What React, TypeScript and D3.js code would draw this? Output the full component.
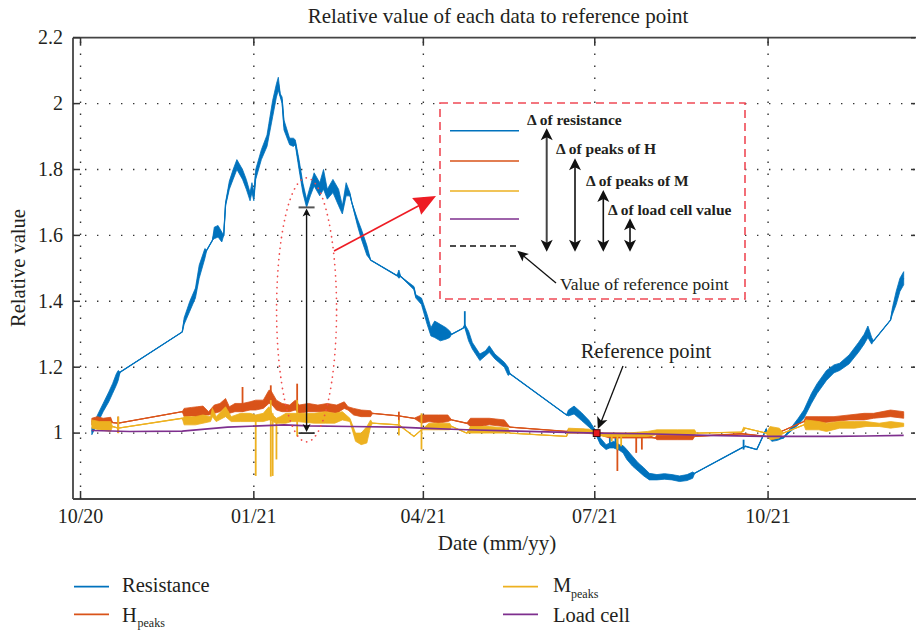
import React from "react";
import * as d3 from "d3";

// ---------- data ----------
const xTickDates = ["2020-10-01", "2021-01-01", "2021-04-01", "2021-07-01", "2021-10-01"];
const xTickLabels = ["10/20", "01/21", "04/21", "07/21", "10/21"];
const yTicks = [1, 1.2, 1.4, 1.6, 1.8, 2, 2.2];
const yTickLabels = ["1", "1.2", "1.4", "1.6", "1.8", "2", "2.2"];
const xDomain = ["2020-09-27", "2021-12-18"];
const yDomain = [0.8, 2.2];

type Band = [string, number, number];

const resistance: Band[] = [
  ["2020-10-07", 0.995, 1.015], ["2020-10-10", 1.03, 1.055], ["2020-10-13", 1.065, 1.09],
  ["2020-10-16", 1.095, 1.125], ["2020-10-18", 1.12, 1.15], ["2020-10-20", 1.145, 1.18],
  ["2020-10-21", 1.16, 1.19], ["2020-10-22", 1.185, 1.185], ["2020-11-24", 1.307, 1.307],
  ["2020-11-25", 1.33, 1.35], ["2020-11-28", 1.37, 1.4], ["2020-12-01", 1.41, 1.44],
  ["2020-12-03", 1.47, 1.51], ["2020-12-06", 1.53, 1.56], ["2020-12-07", 1.555, 1.555],
  ["2020-12-10", 1.585, 1.585], ["2020-12-11", 1.59, 1.625], ["2020-12-13", 1.595, 1.63],
  ["2020-12-15", 1.58, 1.61], ["2020-12-16", 1.6, 1.6], ["2020-12-17", 1.69, 1.7],
  ["2020-12-19", 1.74, 1.765], ["2020-12-21", 1.77, 1.8], ["2020-12-23", 1.8, 1.83],
  ["2020-12-26", 1.77, 1.8], ["2020-12-28", 1.74, 1.77], ["2020-12-30", 1.705, 1.73],
  ["2020-12-31", 1.73, 1.76], ["2021-01-01", 1.705, 1.73], ["2021-01-02", 1.77, 1.8],
  ["2021-01-05", 1.83, 1.86], ["2021-01-08", 1.87, 1.905], ["2021-01-09", 1.9, 1.94],
  ["2021-01-11", 1.96, 2.01], ["2021-01-13", 2.02, 2.06], ["2021-01-14", 2.04, 2.08],
  ["2021-01-15", 2.02, 2.03], ["2021-01-16", 2.0, 2.02], ["2021-01-17", 1.92, 1.95],
  ["2021-01-20", 1.875, 1.895], ["2021-01-22", 1.87, 1.895], ["2021-01-23", 1.875, 1.89],
  ["2021-01-25", 1.8, 1.83], ["2021-01-27", 1.73, 1.76], ["2021-01-29", 1.685, 1.71],
  ["2021-01-31", 1.72, 1.75], ["2021-02-02", 1.75, 1.79], ["2021-02-05", 1.72, 1.76],
  ["2021-02-07", 1.74, 1.8], ["2021-02-09", 1.71, 1.74], ["2021-02-12", 1.73, 1.77],
  ["2021-02-15", 1.69, 1.74], ["2021-02-17", 1.665, 1.69], ["2021-02-19", 1.72, 1.76],
  ["2021-02-21", 1.72, 1.73], ["2021-02-22", 1.7, 1.7], ["2021-02-25", 1.63, 1.65],
  ["2021-02-27", 1.59, 1.62], ["2021-03-02", 1.54, 1.57], ["2021-03-04", 1.525, 1.525],
  ["2021-03-18", 1.478, 1.478], ["2021-03-19", 1.47, 1.495], ["2021-03-20", 1.475, 1.475],
  ["2021-03-27", 1.435, 1.445], ["2021-03-28", 1.41, 1.42], ["2021-03-31", 1.39, 1.41],
  ["2021-04-03", 1.33, 1.36], ["2021-04-05", 1.295, 1.32], ["2021-04-07", 1.29, 1.34],
  ["2021-04-10", 1.28, 1.33], ["2021-04-13", 1.285, 1.32], ["2021-04-15", 1.29, 1.31],
  ["2021-04-16", 1.3, 1.3], ["2021-04-22", 1.318, 1.318], ["2021-04-23", 1.32, 1.33],
  ["2021-04-25", 1.28, 1.31], ["2021-04-27", 1.255, 1.275], ["2021-05-01", 1.22, 1.24],
  ["2021-05-04", 1.235, 1.25], ["2021-05-06", 1.245, 1.265], ["2021-05-09", 1.225, 1.24],
  ["2021-05-11", 1.215, 1.23], ["2021-05-14", 1.2, 1.215], ["2021-05-16", 1.175, 1.2],
  ["2021-05-17", 1.18, 1.18], ["2021-06-16", 1.055, 1.055], ["2021-06-17", 1.052, 1.07],
  ["2021-06-20", 1.058, 1.082], ["2021-06-24", 1.038, 1.062], ["2021-06-28", 1.018, 1.038],
  ["2021-07-01", 1.0, 1.012], ["2021-07-02", 0.99, 1.0], ["2021-07-04", 0.965, 0.985],
  ["2021-07-07", 0.95, 0.965], ["2021-07-09", 0.955, 0.97], ["2021-07-11", 0.955, 0.975],
  ["2021-07-14", 0.948, 0.965], ["2021-07-16", 0.94, 0.962], ["2021-07-18", 0.92, 0.95],
  ["2021-07-21", 0.9, 0.93], ["2021-07-24", 0.885, 0.91], ["2021-07-27", 0.87, 0.895],
  ["2021-07-30", 0.858, 0.878], ["2021-08-03", 0.858, 0.874], ["2021-08-07", 0.86, 0.877],
  ["2021-08-11", 0.858, 0.874], ["2021-08-15", 0.853, 0.87], ["2021-08-19", 0.856, 0.874],
  ["2021-08-22", 0.863, 0.882], ["2021-08-23", 0.878, 0.878], ["2021-09-17", 0.955, 0.955],
  ["2021-09-19", 0.96, 0.96], ["2021-09-25", 0.95, 0.95], ["2021-09-30", 1.012, 1.012],
  ["2021-10-01", 0.99, 0.99], ["2021-10-03", 0.975, 0.99], ["2021-10-06", 0.978, 0.995],
  ["2021-10-09", 0.985, 0.985], ["2021-10-13", 1.005, 1.015], ["2021-10-17", 1.025, 1.045],
  ["2021-10-20", 1.045, 1.07], ["2021-10-24", 1.09, 1.12], ["2021-10-27", 1.12, 1.15],
  ["2021-11-01", 1.16, 1.19], ["2021-11-05", 1.183, 1.207], ["2021-11-08", 1.19, 1.212],
  ["2021-11-13", 1.21, 1.237], ["2021-11-18", 1.245, 1.275], ["2021-11-21", 1.27, 1.3],
  ["2021-11-23", 1.29, 1.325], ["2021-11-25", 1.27, 1.29], ["2021-11-26", 1.28, 1.28],
  ["2021-12-05", 1.343, 1.343], ["2021-12-06", 1.36, 1.38], ["2021-12-08", 1.39, 1.43],
  ["2021-12-10", 1.43, 1.47], ["2021-12-12", 1.45, 1.49],
];
const resistanceSpikes: Band[] = [
  ["2021-04-23", 1.32, 1.37], ["2021-07-09", 0.955, 0.99], ["2021-07-12", 0.955, 0.985],
  ["2021-09-18", 0.95, 0.98],
];

const hPeaks: Band[] = [
  ["2020-10-07", 1.025, 1.045], ["2020-10-10", 1.03, 1.05], ["2020-10-13", 1.025, 1.045],
  ["2020-10-17", 1.03, 1.048], ["2020-10-18", 1.032, 1.032], ["2020-10-21", 1.03, 1.03],
  ["2020-11-24", 1.065, 1.065], ["2020-11-25", 1.05, 1.075], ["2020-11-29", 1.052, 1.078],
  ["2020-12-02", 1.05, 1.08], ["2020-12-05", 1.055, 1.082], ["2020-12-08", 1.055, 1.065],
  ["2020-12-11", 1.06, 1.085], ["2020-12-14", 1.065, 1.09], ["2020-12-17", 1.078, 1.105],
  ["2020-12-19", 1.06, 1.08], ["2020-12-22", 1.065, 1.09], ["2020-12-26", 1.065, 1.09],
  ["2020-12-30", 1.07, 1.095], ["2021-01-02", 1.07, 1.1], ["2021-01-06", 1.075, 1.1],
  ["2021-01-09", 1.09, 1.13], ["2021-01-10", 1.09, 1.13], ["2021-01-13", 1.07, 1.1],
  ["2021-01-16", 1.065, 1.09], ["2021-01-20", 1.065, 1.085], ["2021-01-23", 1.07, 1.1],
  ["2021-01-25", 1.06, 1.085], ["2021-01-30", 1.065, 1.09], ["2021-02-04", 1.065, 1.085],
  ["2021-02-09", 1.065, 1.09], ["2021-02-14", 1.06, 1.085], ["2021-02-18", 1.075, 1.095],
  ["2021-02-20", 1.07, 1.08], ["2021-02-23", 1.055, 1.075], ["2021-02-27", 1.05, 1.07],
  ["2021-03-04", 1.05, 1.068], ["2021-03-05", 1.06, 1.06], ["2021-03-19", 1.052, 1.052],
  ["2021-03-27", 1.045, 1.045], ["2021-03-31", 1.03, 1.055], ["2021-04-04", 1.035, 1.055],
  ["2021-04-09", 1.03, 1.055], ["2021-04-14", 1.035, 1.055], ["2021-04-16", 1.04, 1.04],
  ["2021-04-24", 1.03, 1.03], ["2021-04-26", 1.02, 1.045], ["2021-05-01", 1.02, 1.045],
  ["2021-05-06", 1.025, 1.045], ["2021-05-14", 1.02, 1.04], ["2021-05-17", 1.018, 1.018],
  ["2021-06-16", 1.005, 1.005], ["2021-06-17", 1.0, 1.012], ["2021-06-25", 1.0, 1.012],
  ["2021-07-02", 0.997, 1.003], ["2021-07-06", 0.99, 1.0], ["2021-07-09", 0.985, 1.0],
  ["2021-07-16", 0.985, 1.0], ["2021-07-23", 0.985, 1.0], ["2021-07-29", 0.985, 0.995],
  ["2021-08-02", 0.985, 0.985], ["2021-08-03", 0.98, 0.995], ["2021-08-14", 0.98, 0.995],
  ["2021-08-22", 0.98, 0.995], ["2021-08-23", 0.99, 0.99], ["2021-09-17", 0.998, 0.998],
  ["2021-09-30", 0.99, 0.99], ["2021-10-04", 0.98, 1.0], ["2021-10-08", 1.005, 1.005],
  ["2021-10-20", 1.035, 1.035], ["2021-10-21", 1.03, 1.05], ["2021-10-28", 1.03, 1.05],
  ["2021-11-05", 1.035, 1.05], ["2021-11-13", 1.04, 1.055], ["2021-11-21", 1.04, 1.06],
  ["2021-11-26", 1.045, 1.06], ["2021-12-05", 1.05, 1.07], ["2021-12-12", 1.045, 1.065],
];
const hPeaksSpikes: Band[] = [
  ["2020-10-21", 1.0, 1.05], ["2020-12-26", 1.065, 1.14], ["2021-01-10", 1.09, 1.145],
  ["2021-01-24", 1.07, 1.15], ["2021-03-19", 1.035, 1.065], ["2021-07-13", 0.885, 1.0],
  ["2021-07-23", 0.94, 1.0], ["2021-07-26", 0.95, 0.995],
];

const mPeaks: Band[] = [
  ["2020-10-07", 1.015, 1.04], ["2020-10-11", 1.01, 1.035], ["2020-10-17", 1.005, 1.035],
  ["2020-10-18", 1.02, 1.02], ["2020-10-21", 1.015, 1.015], ["2020-11-24", 1.045, 1.045],
  ["2020-11-25", 1.025, 1.05], ["2020-12-01", 1.025, 1.05], ["2020-12-05", 1.03, 1.055],
  ["2020-12-09", 1.035, 1.05], ["2020-12-10", 1.05, 1.075], ["2020-12-12", 1.035, 1.05],
  ["2020-12-17", 1.05, 1.08], ["2020-12-20", 1.035, 1.05], ["2020-12-25", 1.035, 1.06],
  ["2020-12-30", 1.035, 1.06], ["2021-01-02", 1.035, 1.055], ["2021-01-06", 1.035, 1.06],
  ["2021-01-09", 1.04, 1.08], ["2021-01-10", 1.04, 1.07], ["2021-01-11", 1.035, 1.055],
  ["2021-01-13", 1.03, 1.045], ["2021-01-15", 1.03, 1.05], ["2021-01-18", 1.03, 1.06],
  ["2021-01-21", 1.035, 1.06], ["2021-01-24", 1.035, 1.06], ["2021-02-02", 1.03, 1.06],
  ["2021-02-08", 1.03, 1.065], ["2021-02-13", 1.03, 1.06], ["2021-02-17", 1.04, 1.065],
  ["2021-02-21", 1.035, 1.045], ["2021-02-24", 0.975, 1.0], ["2021-02-27", 0.965, 1.0],
  ["2021-03-02", 0.97, 1.02], ["2021-03-04", 1.02, 1.04], ["2021-03-05", 1.03, 1.03],
  ["2021-03-19", 1.025, 1.025], ["2021-03-27", 0.99, 0.99], ["2021-03-31", 1.01, 1.01],
  ["2021-04-04", 1.01, 1.03], ["2021-04-09", 1.01, 1.03], ["2021-04-15", 1.01, 1.03],
  ["2021-04-16", 1.02, 1.02], ["2021-04-24", 1.0, 1.0], ["2021-04-26", 1.0, 1.02],
  ["2021-05-06", 1.0, 1.02], ["2021-05-16", 1.0, 1.015], ["2021-05-17", 1.0, 1.0],
  ["2021-06-16", 0.99, 0.99], ["2021-06-17", 1.0, 1.015], ["2021-06-28", 1.0, 1.012],
  ["2021-07-02", 0.995, 1.002], ["2021-07-06", 0.99, 1.0], ["2021-07-18", 0.99, 1.0],
  ["2021-07-29", 0.99, 1.005], ["2021-08-03", 0.995, 1.01], ["2021-08-14", 0.995, 1.01],
  ["2021-08-23", 0.995, 1.01], ["2021-08-24", 1.0, 1.0], ["2021-09-17", 1.003, 1.003],
  ["2021-09-18", 1.005, 1.018], ["2021-09-19", 1.015, 1.015], ["2021-09-30", 1.0, 1.0],
  ["2021-10-02", 0.98, 1.02], ["2021-10-07", 0.985, 1.015], ["2021-10-09", 1.0, 1.0],
  ["2021-10-20", 1.025, 1.025], ["2021-10-21", 1.01, 1.04], ["2021-10-28", 1.01, 1.035],
  ["2021-11-01", 1.005, 1.03], ["2021-11-08", 1.015, 1.035], ["2021-11-16", 1.015, 1.035],
  ["2021-11-22", 1.02, 1.035], ["2021-11-29", 1.02, 1.03], ["2021-12-05", 1.015, 1.035],
  ["2021-12-12", 1.02, 1.03],
];
const mPeaksSpikes: Band[] = [
  ["2020-10-21", 1.0, 1.05], ["2021-01-02", 0.87, 1.05], ["2021-01-10", 0.868, 1.1],
  ["2021-01-11", 0.87, 1.06], ["2021-01-13", 0.92, 1.04], ["2021-01-24", 0.99, 1.1],
  ["2021-03-19", 0.993, 1.04], ["2021-03-31", 0.95, 1.06], ["2021-07-10", 0.975, 1.0],
  ["2021-07-13", 0.95, 1.0], ["2021-07-15", 0.96, 1.0],
];

const loadCell: [string, number][] = [
  ["2020-10-07", 1.008], ["2020-10-27", 1.005], ["2020-11-24", 1.006], ["2020-12-18", 1.018],
  ["2021-01-04", 1.022], ["2021-01-17", 1.025], ["2021-01-30", 1.022], ["2021-02-21", 1.02],
  ["2021-03-19", 1.018], ["2021-03-31", 1.015], ["2021-04-24", 1.01], ["2021-07-02", 1.0],
  ["2021-07-27", 0.998], ["2021-08-30", 0.993], ["2021-09-30", 0.99], ["2021-11-05", 0.99],
  ["2021-11-22", 0.991], ["2021-12-12", 0.993],
];

const refPoint: [string, number] = ["2021-07-02", 1.0];
const deltaMarker: [string, number, number] = ["2021-01-29", 1.0, 1.685];
const ellipseCenter: [string, number] = ["2021-01-29", 1.374];

const seriesNames = ["Resistance", "H", "M", "Load cell"];
const colors = ["#0072BD", "#D95319", "#EDB120", "#7E2F8E"];
const insetLabels = ["Δ of resistance", "Δ of peaks of H", "Δ of peaks of M", "Δ of load cell value"];

// ---------- layout ----------
const W = 916;
const H = 635;
const PL = 73, PR = 915, PT = 37.7, PB = 499;
const FONT = "'Liberation Serif', 'Times New Roman', serif";

const parse = d3.utcParse("%Y-%m-%d");

function head(tx: number, ty: number, fx: number, fy: number, len: number, hw: number, notch: number) {
  const dx = tx - fx, dy = ty - fy;
  const L = Math.hypot(dx, dy) || 1;
  const ux = dx / L, uy = dy / L;
  const px = -uy, py = ux;
  const bx = tx - ux * len, by = ty - uy * len;
  const nx = tx - ux * (len - notch), ny = ty - uy * (len - notch);
  return `${tx},${ty} ${bx + px * hw},${by + py * hw} ${nx},${ny} ${bx - px * hw},${by - py * hw}`;
}

export default function App() {
  const x = d3.scaleUtc().domain(xDomain.map((s) => parse(s) as Date)).range([PL, PR]);
  const y = d3.scaleLinear().domain(yDomain).range([PB, PT]);
  const xd = (s: string) => x(parse(s) as Date);

  const area = d3
    .area<Band>()
    .x((d) => xd(d[0]))
    .y0((d) => y(d[1]))
    .y1((d) => y(d[2]));
  const mid = d3
    .line<Band>()
    .x((d) => xd(d[0]))
    .y((d) => y((d[1] + d[2]) / 2));
  const lcLine = d3
    .line<[string, number]>()
    .x((d) => xd(d[0]))
    .y((d) => y(d[1]));

  const bands = [resistance, hPeaks, mPeaks];
  const spikes = [resistanceSpikes, hPeaksSpikes, mPeaksSpikes];

  const gridDash = "1.4 10.6";
  const rx = xd(refPoint[0]);
  const ry = y(refPoint[1]);
  const dmx = xd(deltaMarker[0]);
  const dmy0 = y(deltaMarker[1]);
  const dmy1 = y(deltaMarker[2]);
  const ecx = xd(ellipseCenter[0]);
  const ecy = y(ellipseCenter[1]);

  // inset geometry
  const box = { x0: 440, y0: 103, x1: 745, y1: 299 };
  const legY = [130.7, 161, 191, 219];
  const arrowX = [546.7, 575, 603.3, 630];
  const arrowTop = [128.3, 158.3, 190, 218.3];
  const arrowBot = 251.7;
  const labelPos: [number, number][] = [[527, 125], [556, 154], [586, 186], [608, 215]];

  return (
    <svg
      width={W}
      height={H}
      style={{ position: "absolute", left: 0, top: 0, background: "#fff" }}
      fontFamily={FONT}
    >
      <rect x={0} y={0} width={W} height={H} fill="#fff" />
      {/* grid */}
      <g stroke="#333" strokeWidth={1.4} strokeDasharray={gridDash}>
        {xTickDates.map((t) => (
          <line key={t} x1={xd(t)} x2={xd(t)} y1={PB} y2={PT} />
        ))}
        {yTicks.slice(0, -1).map((t) => (
          <line key={t} x1={PL} x2={PR} y1={y(t)} y2={y(t)} />
        ))}
      </g>

      {/* series */}
      {bands.map((b, i) => (
        <g key={i}>
          <path d={area(b) || ""} fill={colors[i]} stroke={colors[i]} strokeWidth={0.8} />
          <path d={mid(b) || ""} fill="none" stroke={colors[i]} strokeWidth={1.3} />
          {spikes[i].map((s, k) => (
            <line key={k} x1={xd(s[0])} x2={xd(s[0])} y1={y(s[1])} y2={y(s[2])} stroke={colors[i]} strokeWidth={1.8} />
          ))}
        </g>
      ))}
      <path d={lcLine(loadCell) || ""} fill="none" stroke={colors[3]} strokeWidth={1.6} />

      {/* axes */}
      <g stroke="#444" strokeWidth={1.8} fill="none">
        <line x1={PL} x2={PL} y1={PT} y2={PB} />
        <line x1={PL} x2={W} y1={PB} y2={PB} />
        <line x1={PL} x2={W} y1={PT} y2={PT} />
      </g>
      <g stroke="#333" strokeWidth={1.5}>
        {xTickDates.map((t) => (
          <g key={t}>
            <line x1={xd(t)} x2={xd(t)} y1={PB} y2={PB - 8} />
            <line x1={xd(t)} x2={xd(t)} y1={PT} y2={PT + 8} />
          </g>
        ))}
        {yTicks.map((t) => (
          <g key={t}>
            <line x1={PL} x2={PL + 7} y1={y(t)} y2={y(t)} />
            <line x1={PR - 4} x2={PR} y1={y(t)} y2={y(t)} />
          </g>
        ))}
      </g>
      <g fontSize={20} fill="#231f20">
        {xTickDates.map((t, i) => (
          <text key={t} x={xd(t)} y={522.5} textAnchor="middle">
            {xTickLabels[i]}
          </text>
        ))}
        {yTicks.map((t, i) => (
          <text key={t} x={63} y={y(t) + 6.3} textAnchor="end">
            {yTickLabels[i]}
          </text>
        ))}
      </g>

      {/* titles */}
      <text x={498} y={23} fontSize={21} textAnchor="middle" fill="#231f20">
        Relative value of each data to reference point
      </text>
      <text transform="translate(25,268) rotate(-90)" fontSize={20.5} textAnchor="middle" fill="#231f20">
        Relative value
      </text>
      <text x={497} y={550} fontSize={21} textAnchor="middle" fill="#231f20">
        Date (mm/yy)
      </text>

      {/* ellipse + delta marker */}
      <ellipse
        cx={ecx}
        cy={ecy}
        rx={30}
        ry={132}
        fill="none"
        stroke="#ef4a4a"
        strokeWidth={1.7}
        strokeDasharray="0.1 5.5"
        strokeLinecap="round"
      />
      <line x1={dmx} x2={dmx} y1={dmy1 + 4} y2={dmy0 - 4} stroke="#111" strokeWidth={1.4} />
      <polygon points={head(dmx, dmy1 + 1, dmx, dmy0, 8, 4, 2)} fill="#111" />
      <polygon points={head(dmx, dmy0 - 1, dmx, dmy1, 8, 4, 2)} fill="#111" />
      <line x1={dmx - 8} x2={dmx + 8} y1={dmy1} y2={dmy1} stroke="#555" strokeWidth={2} />
      <line x1={dmx - 8} x2={dmx + 8} y1={dmy0} y2={dmy0} stroke="#333" strokeWidth={1.8} />

      {/* red arrow */}
      <line x1={334} y1={251} x2={422} y2={204} stroke="#ee1c24" strokeWidth={1.6} />
      <polygon points={head(436, 196, 334, 251, 22, 9.5, 2)} fill="#ee1c24" />

      {/* inset box */}
      <rect
        x={box.x0}
        y={box.y0}
        width={box.x1 - box.x0}
        height={box.y1 - box.y0}
        fill="#fff"
        stroke="#ef4a55"
        strokeWidth={1.6}
        strokeDasharray="8 5"
      />
      {colors.map((c, i) => (
        <line key={c} x1={450} x2={519} y1={legY[i]} y2={legY[i]} stroke={c} strokeWidth={1.6} />
      ))}
      <line x1={450} x2={519} y1={246} y2={246} stroke="#111" strokeWidth={1.5} strokeDasharray="6 4" />
      {arrowX.map((ax, i) => (
        <g key={ax}>
          <line
            x1={ax}
            x2={ax}
            y1={arrowTop[i] + 8}
            y2={arrowBot - 8}
            stroke={i === 0 ? "#444" : "#111"}
            strokeWidth={i === 0 ? 2 : 1.6}
          />
          <polygon points={head(ax, arrowTop[i], ax, arrowBot, 12, 6, 3)} fill="#111" />
          <polygon points={head(ax, arrowBot, ax, arrowTop[i], 12, 6, 3)} fill="#111" />
        </g>
      ))}
      {insetLabels.map((s, i) => (
        <text key={s} x={labelPos[i][0]} y={labelPos[i][1]} fontSize={15.5} fontWeight="bold" fill="#231f20">
          {s}
        </text>
      ))}
      <line x1={556} y1={283} x2={523} y2={255.5} stroke="#111" strokeWidth={1.3} />
      <polygon points={head(517.3, 250.7, 556, 283, 11, 5, 2.5)} fill="#111" />
      <text x={560} y={290} fontSize={17.5} fill="#231f20">
        Value of reference point
      </text>

      {/* reference point */}
      <line x1={623} y1={366} x2={rx + 4} y2={ry - 10} stroke="#111" strokeWidth={1.3} />
      <polygon points={head(rx + 1.2, ry - 4, 623, 366, 12, 5.5, 3)} fill="#111" />
      <rect x={rx - 3.4} y={ry - 3.4} width={6.8} height={6.8} fill="#e3161b" stroke="#3a0a0a" strokeWidth={1} />
      <text x={646} y={358} fontSize={20.5} textAnchor="middle" fill="#231f20">
        Reference point
      </text>

      {/* bottom legend */}
      <g fill="#231f20">
        <line x1={74} x2={109} y1={586.7} y2={586.7} stroke={colors[0]} strokeWidth={1.8} />
        <text x={122} y={592} fontSize={20.5}>{seriesNames[0]}</text>
        <line x1={74} x2={109} y1={614.3} y2={614.3} stroke={colors[1]} strokeWidth={1.8} />
        <text x={122} y={621.5} fontSize={20.5}>{seriesNames[1]}</text>
        <text x={137.5} y={627} fontSize={12}>peaks</text>
        <line x1={503} x2={538} y1={586.7} y2={586.7} stroke={colors[2]} strokeWidth={1.8} />
        <text x={553} y={592} fontSize={20.5}>{seriesNames[2]}</text>
        <text x={571} y={597.5} fontSize={12}>peaks</text>
        <line x1={503} x2={538} y1={614.3} y2={614.3} stroke={colors[3]} strokeWidth={1.8} />
        <text x={553} y={621.5} fontSize={20.5}>{seriesNames[3]}</text>
      </g>
    </svg>
  );
}
